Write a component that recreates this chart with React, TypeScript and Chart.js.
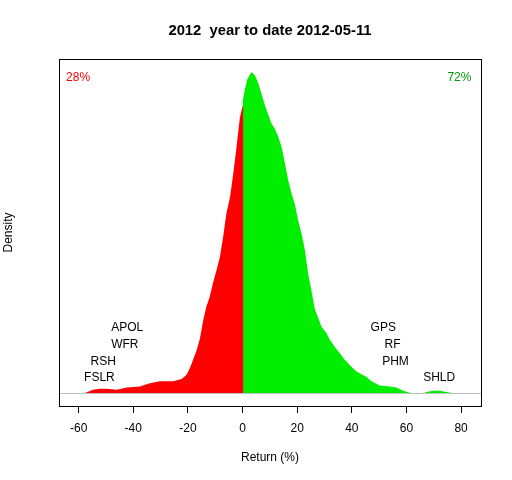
import React, { useEffect, useRef } from "react";
import { Chart, registerables } from "chart.js";

Chart.register(...registerables);

const titleText = "2012  year to date 2012-05-11";
const xLabel = "Return (%)";
const yLabel = "Density";

const xTicks = [-60, -40, -20, 0, 20, 40, 60, 80];
const xMin = -67.2;
const xMax = 87.3;
const yMin = -0.00122;
const yMax = 0.03122;

const redX = [-57.7, -54.7, -52.2, -49.8, -46.1, -42.4, -37.6, -33.9, -30.3, -25.4, -22.3, -20.5, -19.3, -18.1, -16.8, -15.6, -14.4, -13.2, -12.0, -10.8, -9.5, -8.3, -7.1, -5.9, -4.6, -3.4, -2.2, -1.0, 0];
const redY = [0.0, 0.0003, 0.0004, 0.0004, 0.0003, 0.0005, 0.0006, 0.0009, 0.0011, 0.0011, 0.0013, 0.0017, 0.0023, 0.0031, 0.004, 0.0051, 0.0068, 0.0081, 0.009, 0.0103, 0.0115, 0.0127, 0.0146, 0.0168, 0.0183, 0.0205, 0.023, 0.0257, 0.0268];

const greenX = [0, 0.8, 1.7, 3.3, 4.5, 5.7, 7.0, 8.2, 9.4, 10.6, 11.8, 13.0, 14.3, 15.5, 16.7, 17.9, 19.1, 20.3, 21.6, 22.8, 24.0, 25.2, 26.5, 27.7, 28.9, 30.7, 31.9, 33.8, 35.6, 37.4, 39.3, 41.7, 45.4, 47.2, 50.2, 53.9, 56.3, 58.8, 61.6, 66.5, 67.3, 69.7, 72.2, 74.6, 76.8];
const greenY = [0.0272, 0.0283, 0.0293, 0.03, 0.0297, 0.029, 0.0279, 0.0269, 0.026, 0.0252, 0.0247, 0.024, 0.023, 0.0215, 0.0199, 0.0187, 0.0177, 0.0162, 0.0149, 0.0134, 0.0112, 0.0096, 0.0078, 0.007, 0.0062, 0.0056, 0.005, 0.0043, 0.0037, 0.0031, 0.0026, 0.002, 0.0015, 0.0011, 0.0007, 0.0006, 0.0005, 0.0002, 0.0, 0.0, 0.0001, 0.0002, 0.0002, 0.0001, 0.0];

const tickerNames = ["FSLR", "RSH", "WFR", "APOL", "GPS", "RF", "PHM", "SHLD"];
const tickerReturns = [-52.4, -51.0, -43.1, -42.2, 51.5, 54.9, 56.0, 72.0];
const tickerHeights = [0.00143, 0.00293, 0.00455, 0.0061, 0.0061, 0.00455, 0.00293, 0.00143];

const shareLabels = ["28%", "72%"];
const shareX = [-64.6, 83.8];
const shareY = [0.02947, 0.02947];

const FONT = "'Liberation Sans', Arial, sans-serif";

// red polygon is tucked slightly under the green one so no seam shows at 0
const redData = redX.map((x, i) => ({ x, y: redY[i] })).concat([{ x: 0.3, y: redY[redY.length - 1] }]);

const annotationPlugin = {
  id: "rAnnotations",
  afterDatasetsDraw(chart: any) {
    const { ctx, chartArea } = chart;
    const xs = chart.scales.x;
    const ys = chart.scales.y;
    ctx.save();
    ctx.strokeStyle = "#BEBEBE";
    ctx.lineWidth = 1;
    const y0 = Math.round(ys.getPixelForValue(0)) + 0.5;
    ctx.beginPath();
    ctx.moveTo(chartArea.left, y0);
    ctx.lineTo(chartArea.right, y0);
    ctx.stroke();

    ctx.strokeStyle = "#000";
    ctx.lineWidth = 1;
    ctx.strokeRect(
      Math.round(chartArea.left) + 0.5,
      Math.round(chartArea.top) + 0.5,
      Math.round(chartArea.right - chartArea.left),
      Math.round(chartArea.bottom - chartArea.top)
    );

    ctx.fillStyle = "#000";
    ctx.font = `12px ${FONT}`;
    ctx.textAlign = "center";
    ctx.textBaseline = "middle";
    tickerNames.forEach((n, i) => {
      ctx.fillText(n, xs.getPixelForValue(tickerReturns[i]), ys.getPixelForValue(tickerHeights[i]));
    });

    ctx.fillStyle = "#FF0000";
    ctx.textAlign = "left";
    ctx.fillText(shareLabels[0], xs.getPixelForValue(shareX[0]), ys.getPixelForValue(shareY[0]));
    ctx.fillStyle = "#009A00";
    ctx.textAlign = "right";
    ctx.fillText(shareLabels[1], xs.getPixelForValue(shareX[1]), ys.getPixelForValue(shareY[1]));

    const cx = (chartArea.left + chartArea.right) / 2;
    ctx.fillStyle = "#000";
    ctx.textAlign = "center";
    ctx.font = `bold 14.8px ${FONT}`;
    ctx.fillText(titleText, cx, 31);

    ctx.font = `12px ${FONT}`;
    ctx.fillText(xLabel, cx, 458);

    ctx.save();
    ctx.translate(9, (chartArea.top + chartArea.bottom) / 2);
    ctx.rotate(-Math.PI / 2);
    ctx.fillText(yLabel, 0, 0);
    ctx.restore();

    ctx.restore();
  },
};

export default function App() {
  const ref = useRef<HTMLCanvasElement | null>(null);

  useEffect(() => {
    if (!ref.current) return;
    Chart.defaults.font.family = FONT;
    const chart = new Chart(ref.current, {
      type: "line",
      data: {
        datasets: [
          {
            label: "negative",
            data: redData,
            backgroundColor: "#FF0000",
            borderColor: "#FF0000",
            borderWidth: 0,
            pointRadius: 0,
            fill: "origin",
            tension: 0,
          },
          {
            label: "positive",
            data: greenX.map((x, i) => ({ x, y: greenY[i] })),
            backgroundColor: "#00EE00",
            borderColor: "#00EE00",
            borderWidth: 0,
            pointRadius: 0,
            fill: "origin",
            tension: 0,
          },
        ],
      },
      options: {
        animation: false,
        responsive: false,
        devicePixelRatio: 1,
        layout: { padding: { left: 59, right: 31, top: 59, bottom: 0 } },
        plugins: {
          legend: { display: false },
          tooltip: { enabled: false },
          title: { display: false },
        },
        scales: {
          x: {
            type: "linear",
            position: "bottom",
            min: xMin,
            max: xMax,
            afterFit: (s: any) => {
              s.height = 74;
            },
            afterBuildTicks: (s: any) => {
              s.ticks = xTicks.map((v) => ({ value: v }));
            },
            grid: {
              display: true,
              drawOnChartArea: false,
              drawTicks: true,
              tickLength: 7,
              color: "#000",
            },
            border: { display: true, color: "#000" },
            ticks: {
              color: "#000",
              font: { family: FONT, size: 12 },
              padding: 8,
              maxRotation: 0,
              autoSkip: false,
            },
          },
          y: {
            display: false,
            min: yMin,
            max: yMax,
          },
        },
      },
      plugins: [annotationPlugin],
    });
    return () => chart.destroy();
  }, []);

  return (
    <div style={{ position: "fixed", left: 0, top: 0, width: 512, height: 480, background: "#fff" }}>
      <canvas ref={ref} width={512} height={480} style={{ width: 512, height: 480 }} />
    </div>
  );
}
